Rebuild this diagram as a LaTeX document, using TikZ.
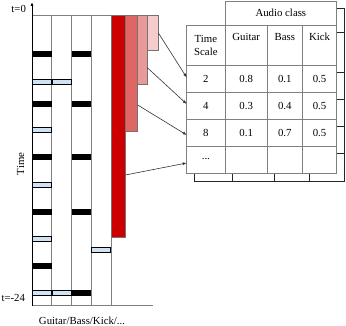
\documentclass[tikz,border=0pt]{standalone}
\usepackage{fontspec}
\setmainfont{Liberation Serif}
\usepackage{xcolor}
\usetikzlibrary{arrows.meta,positioning}

\definecolor{redA}{HTML}{CC0000}
\definecolor{redB}{HTML}{E06666}
\definecolor{redC}{HTML}{EA9999}
\definecolor{redD}{HTML}{F4CCCC}
\definecolor{softblue}{HTML}{CFE2F3}

\begin{document}
\begin{tikzpicture}[
      x=1pt,y=-1pt,
      font=\fontsize{10.8}{13}\selectfont,
      hit/.style={rectangle,fill=black,inner sep=0pt,minimum width=19.5pt,minimum height=5.8pt},
      soft/.style={rectangle,draw=black,fill=softblue,line width=0.8pt,inner sep=0pt,minimum width=18.8pt,minimum height=4.4pt},
      bar/.style={rectangle,draw=black!55,line width=0.6pt,inner sep=0pt,outer sep=0pt,anchor=north west},
      cell/.style 2 args={rectangle,draw=black!50,fill=white,line width=0.8pt,inner sep=0pt,outer sep=0pt,align=center,minimum width=#1,minimum height=#2},
      rule/.style={draw=black!50,line width=0.8pt},
      link/.style={-{Latex[length=4pt,width=3pt]},draw=black!80,line width=0.6pt}
    ]
    \useasboundingbox (0,0) rectangle (346,326);

    % piano roll
    \coordinate (origin) at (32,305.7);
    \coordinate (tip) at (32,2);
    \foreach \x in {51.7,71.3,91.3,111} \draw[rule] (\x,15.7) -- (\x,305.7);
    \draw[rule] (32,15.7) -- (158.3,15.7);
    \draw[rule] (origin) -- (152.7,305.7);
    \draw[-{Latex[length=4pt,width=3pt]},line width=1pt] (origin) -- (tip);

    \foreach \y [count=\i] in {54,104,157,211.7,266} \node[hit] (gh\i) at (42,\y) {};
    \foreach \y [count=\i] in {82,130,185,239,293} \node[soft] (gs\i) at (42,\y) {};
    \foreach \y [count=\i] in {82,293} \node[soft] (bs\i) at (61.5,\y) {};
    \foreach \y [count=\i] in {54,104,157,211.7,293} \node[hit] (kh\i) at (81.3,\y) {};
    \node[soft] (os1) at (101.2,250) {};

    \node (tzero) at (18.7,9) {t=0};
    \node (tend) at (13.3,298.3) {t=-24};
    \node[rotate=90] (time) at (20.5,164) {Time};
    \node (classes) at (82,320.7) {Guitar/Bass/Kick/...};

    % time scales
    \node[bar,fill=redA,minimum width=14.7pt,minimum height=221.3pt] (barA) at (111,15.7) {};
    \node[bar,fill=redB,minimum width=12pt,minimum height=116pt] (barB) at (barA.north east) {};
    \node[bar,fill=redC,minimum width=9.6pt,minimum height=68.6pt] (barC) at (barB.north east) {};
    \node[bar,fill=redD,minimum width=11pt,minimum height=34.3pt] (barD) at (barC.north east) {};

    % stacked table behind
    \begin{scope}[shift={(7.3,7.7)}]
      \filldraw[draw=black!85,fill=white,line width=0.8pt] (225,1) -- (336.7,1) -- (336.7,173.3) -- (186.7,173.3) -- (186.7,25) -- (225,25) -- cycle;
      \foreach \y in {25,65,92,119,146} \draw[draw=black!85,line width=0.8pt] (186.7,\y) -- (336.7,\y);
      \foreach \x in {225,267.3,302.3} \draw[draw=black!85,line width=0.8pt] (\x,25) -- (\x,173.3);
    \end{scope}

    % table
    \node[cell={38.3pt}{40pt},anchor=north west] (scale) at (186.7,25) {Time\\Scale};
    \node[cell={42.3pt}{40pt},right=0pt of scale] (guitar) {Guitar\\\strut};
    \node[cell={35pt}{40pt},right=0pt of guitar] (bass) {Bass\\\strut};
    \node[cell={34.4pt}{40pt},right=0pt of bass] (kick) {Kick\\\strut};
    \node[cell={111.7pt}{24pt},anchor=south west] (head) at (guitar.north west) {Audio class};

    \node[cell={38.3pt}{27pt},below=0pt of scale] (s2) {2};
    \node[cell={42.3pt}{27pt},right=0pt of s2] (g2) {0.8};
    \node[cell={35pt}{27pt},right=0pt of g2] (b2) {0.1};
    \node[cell={34.4pt}{27pt},right=0pt of b2] (k2) {0.5};

    \node[cell={38.3pt}{27pt},below=0pt of s2] (s4) {4};
    \node[cell={42.3pt}{27pt},right=0pt of s4] (g4) {0.3};
    \node[cell={35pt}{27pt},right=0pt of g4] (b4) {0.4};
    \node[cell={34.4pt}{27pt},right=0pt of b4] (k4) {0.5};

    \node[cell={38.3pt}{27pt},below=0pt of s4] (s8) {8};
    \node[cell={42.3pt}{27pt},right=0pt of s8] (g8) {0.1};
    \node[cell={35pt}{27pt},right=0pt of g8] (b8) {0.7};
    \node[cell={34.4pt}{27pt},right=0pt of b8] (k8) {0.5};

    \node[cell={38.3pt}{27pt},below=0pt of s8] (sx) {...};
    \node[cell={42.3pt}{27pt},right=0pt of sx] (gx) {};
    \node[cell={35pt}{27pt},right=0pt of gx] (bx) {};
    \node[cell={34.4pt}{27pt},right=0pt of bx] (kx) {};

    \draw[link] (barD.east) -- ([yshift=1pt]s2.west);
    \draw[link] ([yshift=-17.7pt]barC.east) -- ([yshift=1.5pt]s4.west);
    \draw[link] ([yshift=-31.3pt]barB.east) -- ([yshift=-2.5pt]s8.west);
    \draw[link] ([yshift=-48.6pt]barA.east) -- ([yshift=-3.5pt]sx.west);
  \end{tikzpicture}
\end{document}
